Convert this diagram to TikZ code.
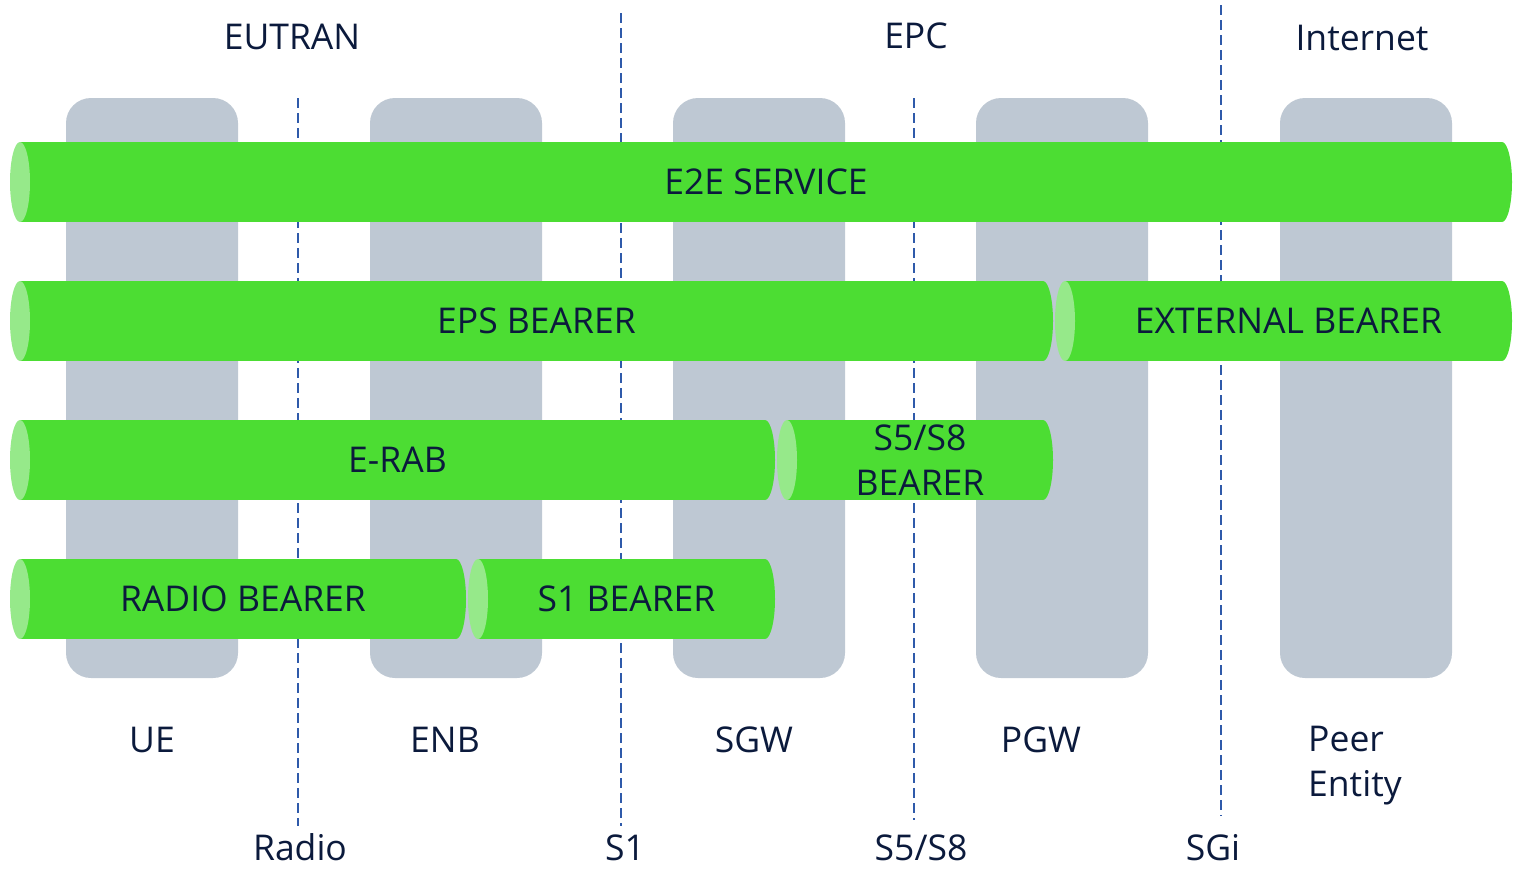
\documentclass[tikz,border=0pt]{standalone}
\usepackage{fontspec}
\setmainfont{Open Sans}
\usepackage{tikz}
\usetikzlibrary{positioning, calc}

\definecolor{navytext}{HTML}{0B1A3C}
\definecolor{colgray}{HTML}{BEC8D3}
\definecolor{bargreen}{HTML}{4CDD33}
\definecolor{capgreen}{HTML}{96E98A}
\definecolor{dashblue}{HTML}{2F5AAA}

% one bearer tube: name, left x, right x, middle y, text
\newcommand{\bearer}[5]{%
  \fill[barbody] (#2+10,#4-40) rectangle (#3-10,#4+40);
  \fill[barbody] (#3-10,#4) ellipse[x radius=10, y radius=40];
  \fill[barcap] (#2+10,#4) ellipse[x radius=10, y radius=40];
  \node[bartext] (#1) at ({(#2+10+#3)/2},#4) {#5};
}

\begin{document}
\begin{tikzpicture}[x=1pt, y=-1pt,
    column/.style={rectangle, fill=colgray, rounded corners=25pt, minimum width=172pt, minimum height=580pt, inner sep=0pt},
    barbody/.style={fill=bargreen},
    barcap/.style={fill=capgreen},
    bartext/.style={text=navytext, align=center, font=\fontsize{35.5}{45}\selectfont, inner sep=0pt},
    label/.style={text=navytext, font=\fontsize{35.5}{45}\selectfont, inner sep=0pt},
    iface/.style={draw=dashblue, line width=1.5pt, dash pattern=on 10pt off 5pt}]

    \useasboundingbox (0,0) rectangle (1513,870);

    % network elements
    \node[column] (ue) at (152,388) {};
    \node[column] (enb) at (456,388) {};
    \node[column] (sgw) at (759,388) {};
    \node[column] (pgw) at (1062,388) {};
    \node[column] (peer) at (1366,388) {};

    % domains
    \node[label] (eutran) at (292,37) {EUTRAN};
    \node[label] (epc) at (916,36) {EPC};
    \node[label] (internet) at (1362,38) {Internet};

    % element names
    \node[label] (uename) at (152,740) {UE};
    \node[label] (enbname) at (445,740) {ENB};
    \node[label] (sgwname) at (754,740) {SGW};
    \node[label] (pgwname) at (1041,740) {PGW};
    \node[label, align=left, anchor=west] (peername) at (1308,766) {Peer\\Entity};

    % interfaces
    \node[label, anchor=base] (radio) at (300,860) {Radio};
    \node[label, anchor=base] (sone) at (625,860) {S1};
    \node[label, anchor=base] (sfive) at (921,860) {S5/S8};
    \node[label, anchor=base] (sgi) at (1213,860) {SGi};

    \coordinate (radiotop) at (298,98);
    \coordinate (sonetop) at (621,13);
    \coordinate (sfivetop) at (914,98);
    \coordinate (sgitop) at (1221,5);

    \draw[iface] (radiotop) -- (radiotop |- 0,826);
    \draw[iface] (sonetop) -- (sonetop |- 0,826);
    \draw[iface] (sfivetop) -- (sfivetop |- 0,820);
    \draw[iface] (sgitop) -- (sgitop |- 0,816);

    % bearers
    \bearer{etoe}{10}{1512}{182}{E2E SERVICE}
    \bearer{eps}{10}{1053}{321}{EPS BEARER}
    \bearer{ext}{1055}{1512}{321}{EXTERNAL BEARER}
    \bearer{erab}{10}{775}{460}{E-RAB}
    \bearer{sfivebearer}{777}{1053}{460}{S5/S8\\BEARER}
    \bearer{radiobearer}{10}{466}{599}{RADIO BEARER}
    \bearer{sonebearer}{468}{775}{599}{S1 BEARER}
\end{tikzpicture}
\end{document}
